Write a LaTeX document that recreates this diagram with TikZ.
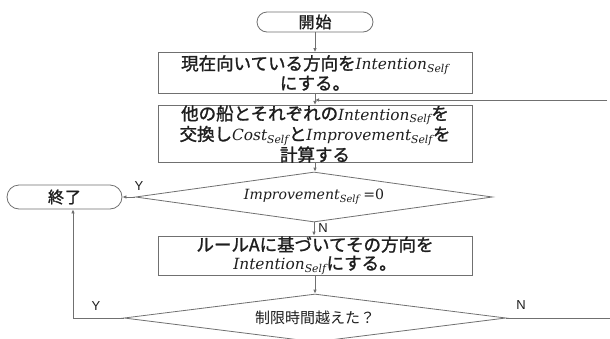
\documentclass[tikz,border=0pt]{standalone}
\usepackage{fontspec}
\setmainfont{Noto Sans CJK JP}
\newfontfamily\jpbold{Noto Sans CJK JP}[FakeBold=1.4]
\newfontfamily\mifont{DejaVu Serif}[Scale=0.88]
\newfontfamily\labfont{Liberation Sans}
\newcommand\varsub[2]{{\mifont\itshape #1}\textsubscript{\mifont\itshape #2}}
\usetikzlibrary{shapes.geometric,arrows.meta}
\definecolor{linegray}{HTML}{707070}
\definecolor{textdark}{HTML}{1E1E1E}
\begin{document}
\begin{tikzpicture}[x=1pt,y=-1pt,
  conn/.style={draw=linegray,line width=0.8pt,-{Latex[length=4pt,width=3.6pt]}},
  plainline/.style={draw=linegray,line width=0.8pt},
  proc/.style={draw=linegray,line width=0.8pt,rectangle,minimum width=314pt,inner sep=0pt,
    align=center,text=textdark,font=\fontsize{17.5}{18.5}\selectfont\jpbold},
  term/.style={draw=linegray,line width=0.8pt,rectangle,inner sep=0pt,text=textdark,
    font=\fontsize{16}{18}\selectfont\jpbold},
  dec/.style={draw=linegray,line width=0.8pt,diamond,aspect=7,inner sep=0pt,text=textdark},
  lbl/.style={font=\labfont\fontsize{13}{13}\selectfont,text=textdark,inner sep=0pt}
]
\useasboundingbox (0,0) rectangle (610,338);
\fill[white] (0,0) rectangle (610,338);

\node[term,minimum width=116pt,minimum height=20pt,rounded corners=10pt] (start) at (315,22) {開\hspace{1pt}始};
\node[proc,minimum height=41pt] (box1) at (315,73) {現在向いている方向を\varsub{Intention}{Self}\\にする。};
\node[proc,minimum height=52pt,font=\fontsize{17.5}{17}\selectfont\jpbold] (box2) at (315,134)
  {他の船とそれぞれの\varsub{Intention}{Self}を\\交換し\varsub{Cost}{Self}と\varsub{Improvement}{Self}を\\計算する};
\node[dec,minimum width=357pt,minimum height=50pt,font=\fontsize{16}{17}\selectfont] (dia1) at (314,197)
  {\varsub{Improvement}{Self}\ {\mifont =0}};
\node[proc,minimum height=39pt] (box3) at (315,255.5) {ルールAに基づいてその方向を\\\varsub{Intention}{Self}にする。};
\node[dec,minimum width=382pt,minimum height=48pt,font=\fontsize{15}{17}\selectfont] (dia2) at (315,318)
  {制限時間越えた？};
\node[term,minimum width=115pt,minimum height=24pt,rounded corners=12pt] (end) at (64.5,197) {終\hspace{1pt}了};

\coordinate (fbR) at (607,100);
\coordinate (fbL) at (315,100);
\coordinate (yturn) at (73,318);
\coordinate (nend) at (610,318);

\draw[conn] (start.south) -- (box1.north);
\draw[conn] (box1.south) -- (box2.north);
\draw[conn] (fbR) -- (fbL);
\draw[conn] (box2.south) -- (box2.south |- dia1.north);
\draw[conn] (dia1.west) -- (end.east);
\draw[conn] (dia1.south) -- (dia1.south |- box3.north);
\draw[conn] (box3.south) -- (dia2.north);
\draw[conn] (dia2.west) -- (yturn) -- (yturn |- end.south);
\draw[plainline] (dia2.east) -- (nend);

\node[lbl] (y1) at (139,186) {Y};
\node[lbl] (n1) at (323,228) {N};
\node[lbl] (y2) at (96,306) {Y};
\node[lbl] (n2) at (521,305) {N};
\end{tikzpicture}
\end{document}
